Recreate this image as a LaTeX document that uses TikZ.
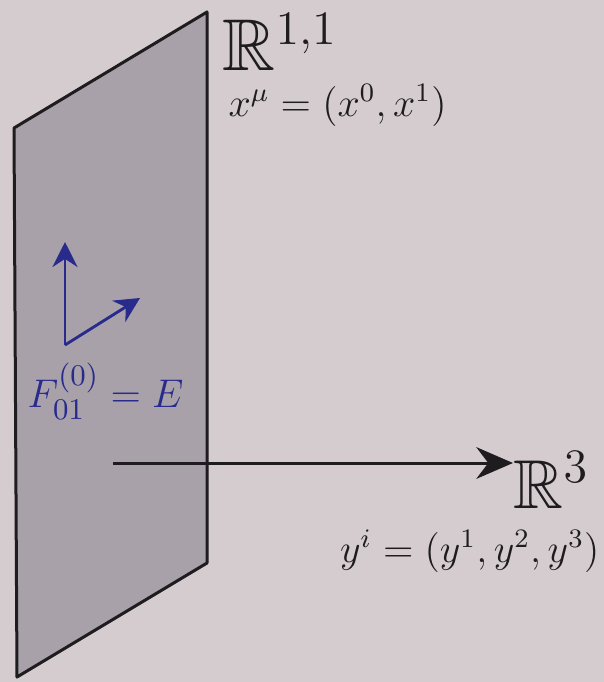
\documentclass[tikz,border=0pt]{standalone}
\usepackage{amsmath,amssymb}
\usepackage{tikz}
\usetikzlibrary{arrows.meta,positioning,calc}
\usepackage{xcolor}
\definecolor{paper}{RGB}{212,204,207}
\definecolor{brane}{RGB}{168,161,170}
\definecolor{ink}{RGB}{30,28,30}
\definecolor{fieldblue}{RGB}{40,42,140}
\tikzset{
  sheet/.style={draw=ink,fill=brane,line width=0.9pt,line join=round},
  lbl/.style={inner sep=0pt,text=ink},
  ray/.style={-{Stealth[length=11pt,width=9.5pt]},line width=0.9pt,ink},
  efield/.style={-{Stealth[length=7.5pt,width=7.5pt]},line width=0.85pt,fieldblue},
}

\begin{document}
\begin{tikzpicture}[x=0.3pt,y=-0.3pt]
% page, one unit = one pixel of the reference
\fill[paper] (0,0) rectangle (604,682);
\useasboundingbox (0,0) rectangle (604,682);
% the brane
\coordinate (tr) at (207,12);
\coordinate (tl) at (14,128);
\coordinate (bl) at (17,677);
\coordinate (br) at (207,563);
\draw[sheet] (tr) -- (tl) -- (bl) -- (br) -- cycle;
\node[lbl,anchor=base west] (Rbrane) at (222,70) {\fontsize{22}{26}\selectfont$\mathbb{R}^{1,1}$};
\node[lbl,anchor=base west] (xmu) at (228,116) {\large$x^\mu=(x^0,x^1)$};
% electric field on the brane
\coordinate (o) at (65,345);
\coordinate (e0) at (65,242);
\coordinate (e1) at (140,298);
\draw[efield] (o) -- (e0);
\draw[efield] (o) -- (e1);
\node[lbl,text=fieldblue,anchor=base west] (Flab) at (27,407) {\fontsize{12.6}{15}\selectfont$F^{(0)}_{01}=E$};
% transverse directions
\node[lbl,anchor=base west] (R3) at (513,508) {\huge$\mathbb{R}^{3}$};
\node[lbl,anchor=base east] (yi) at (600,562) {\large$y^i=(y^1,y^2,y^3)$};
\coordinate (start) at (113,463);
\draw[ray] (start) -- (start -| R3.west);
\end{tikzpicture}
\end{document}
